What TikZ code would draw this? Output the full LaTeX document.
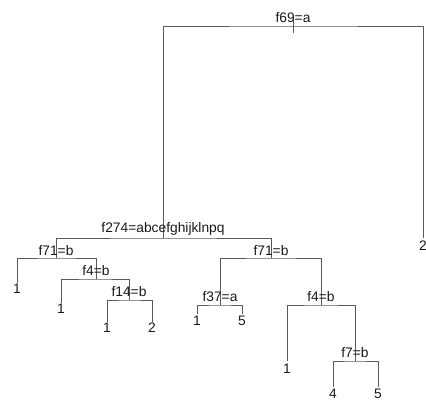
\documentclass[tikz,border=0pt]{standalone}
\usepackage{fontspec}
\setmainfont{Liberation Sans}
\begin{document}
\begin{tikzpicture}[x=1pt,y=-1pt,
  edge/.style={draw=black!65, line width=0.9pt},
  lab/.style={font=\fontsize{13.8}{16}\selectfont, inner sep=0pt, anchor=base, text=black!90},
  leaf/.style={font=\fontsize{13.8}{16}\selectfont, inner sep=0pt, anchor=north, text=black!90}]
\useasboundingbox (0,0) rectangle (426,403);
% split points
\coordinate (root) at (293,26);
\coordinate (n274) at (163,238);
\coordinate (n2r) at (423,238);
\coordinate (n71L) at (56,258);
\coordinate (n71R) at (271,258);
\coordinate (L1a) at (17,283);
\coordinate (n4L) at (96,279);
\coordinate (L1b) at (61,303);
\coordinate (n14) at (129,300);
\coordinate (L1c) at (107,322);
\coordinate (L2c) at (152,322);
\coordinate (n37) at (220,305);
\coordinate (n4R) at (321,305);
\coordinate (L1d) at (197,314);
\coordinate (L5d) at (242,314);
\coordinate (L1e) at (287,361);
\coordinate (n7) at (355,361);
\coordinate (L4) at (333,387);
\coordinate (L5) at (378,387);
\coordinate (rt1) at (293,19);
\coordinate (rt2) at (293,33);
% edges
\draw[edge] (n274) |- (root) -| (n2r);
\draw[edge] (rt1) -- (rt2);
\draw[edge] (n71L) |- (n274) -| (n71R);
\draw[edge] (L1a) |- (n71L) -| (n4L);
\draw[edge] (L1b) |- (n4L) -| (n14);
\draw[edge] (L1c) |- (n14) -| (L2c);
\draw[edge] (n37) |- (n71R) -| (n4R);
\draw[edge] (L1d) |- (n37) -| (L5d);
\draw[edge] (L1e) |- (n4R) -| (n7);
\draw[edge] (L4) |- (n7) -| (L5);
% split labels
\node[lab] (t69) at ([yshift=3pt]root) {f69=a};
\node[lab] (t274) at ([yshift=5pt]n274) {f274=abcefghijklnpq};
\node[lab] (t71L) at ([yshift=2pt]n71L) {f71=b};
\node[lab] (t4L) at ([yshift=3pt]n4L) {f4=b};
\node[lab] (t14) at ([yshift=3pt]n14) {f14=b};
\node[lab] (t71R) at ([yshift=2pt]n71R) {f71=b};
\node[lab] (t37) at ([yshift=3pt]n37) {f37=a};
\node[lab] (t4R) at ([yshift=3pt]n4R) {f4=b};
\node[lab] (t7) at ([yshift=3pt]n7) {f7=b};
% leaf labels
\node[leaf] (v2r) at ([yshift=-3pt]n2r) {2};
\node[leaf] (v1a) at ([yshift=-1pt]L1a) {1};
\node[leaf] (v1b) at ([yshift=-1pt]L1b) {1};
\node[leaf] (v1c) at ([yshift=-1pt]L1c) {1};
\node[leaf] (v2c) at ([yshift=-1pt]L2c) {2};
\node[leaf] (v1d) at ([yshift=-2pt]L1d) {1};
\node[leaf] (v5d) at ([yshift=-2pt]L5d) {5};
\node[leaf] (v1e) at ([yshift=-3pt]L1e) {1};
\node[leaf] (v4) at ([yshift=-2pt]L4) {4};
\node[leaf] (v5) at ([yshift=-2pt]L5) {5};
\end{tikzpicture}
\end{document}
